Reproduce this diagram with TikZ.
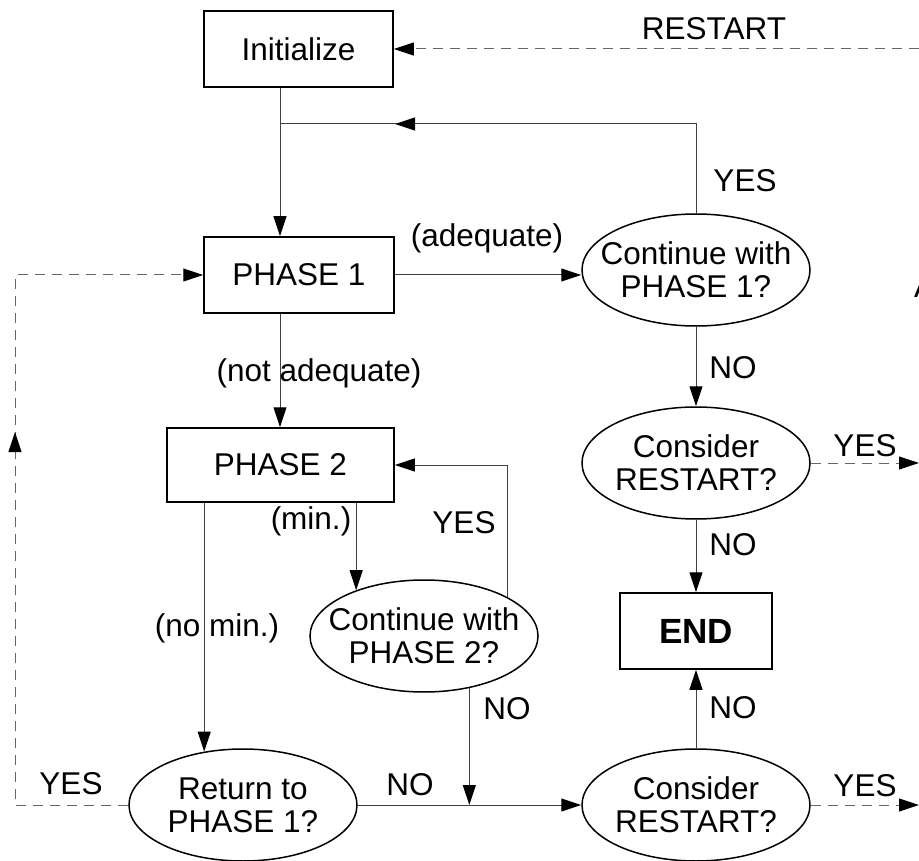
\documentclass[tikz,border=0pt]{standalone}
\usepackage{fontspec}
\setmainfont{Liberation Sans}
\usetikzlibrary{arrows.meta,shapes.geometric}
\begin{document}
\begin{tikzpicture}[x=1pt,y=-1pt,
  every node/.style={font=\fontsize{31.5}{33}\selectfont},
  box/.style={draw=black,line width=1.5pt,inner sep=0pt},
  dec/.style={draw=black,ellipse,line width=1.5pt,minimum width=228pt,minimum height=112pt,inner sep=0pt},
  txt/.style={align=center,inner sep=0pt},
  conn/.style={line width=1pt,draw=black!75},
  dconn/.style={line width=1pt,draw=black!60,dash pattern=on 10pt off 7pt},
  tip/.style={-{Triangle[length=20pt,width=13pt,color=black,fill=black]}},
  lbl/.style={inner sep=0pt}]
\useasboundingbox (0,0) rectangle (919,861);

% boxes
\node[box,minimum width=189pt,minimum height=76pt] (init) at (298.5,49) {Initialize};
\node[box,minimum width=190pt,minimum height=76pt] (p1) at (299,275) {PHASE 1};
\node[box,minimum width=227pt,minimum height=74pt] (p2) at (280.5,465) {PHASE 2};
\node[box,minimum width=152pt,minimum height=76pt,font=\fontsize{35}{40}\selectfont\bfseries] (end) at (696,631) {END};

% decisions
\node[dec] (c1) at (696,270) {};
\node[txt] (c1t) at (c1) {Continue with\\PHASE 1?};
\node[dec] (cons1) at (696,463) {};
\node[txt] (cons1t) at (cons1) {Consider\\RESTART?};
\node[dec] (c2) at (424,636) {};
\node[txt] (c2t) at (c2) {Continue with\\PHASE 2?};
\node[dec] (ret) at (243,805) {};
\node[txt] (rett) at (ret) {Return to\\PHASE 1?};
\node[dec] (cons2) at (696,805) {};
\node[txt] (cons2t) at (cons2) {Consider\\RESTART?};

% helper coordinates
\coordinate (j1) at (280,124);
\coordinate (a1) at (395,124);
\coordinate (rs) at (919,49);
\coordinate (ry1) at (919,463);
\coordinate (ry2) at (919,805);
\coordinate (l1) at (15,805);
\coordinate (l2) at (15,275);
\coordinate (l3) at (15,432);
\coordinate (l4) at (15,436);

% solid connectors
\draw[conn,tip] (init.south -| j1) -- (p1.north -| j1);
\draw[conn] (c1.north) -- (c1.north |- j1) -- (j1);
\draw[conn,tip] (c1.north |- j1) -- (a1);
\draw[conn,tip] (p1.east) -- (p1.east -| c1.west);
\draw[conn,tip] (c1.south) -- (cons1.north);
\draw[conn,tip] (cons1.south) -- (end.north);
\draw[conn,tip] (cons2.north) -- (end.south);
\draw[conn,tip] (p1.south -| j1) -- (p2.north -| j1);
\draw[conn,tip] (p2.south -| c2.146) -- (c2.146);
\draw[conn,tip] (c2.25) -- (c2.25 |- p2.east) -- (p2.east);
\draw[conn,tip] (p2.south -| ret.126) -- (ret.126);
\draw[conn,tip] (c2.-49) -- (c2.-49 |- ret.east);
\draw[conn,tip] (ret.east) -- (cons2.west);

% dashed connectors
\draw[dconn,tip] (rs) -- (init.east);
\draw[dconn,tip] (cons1.east) -- (ry1);
\draw[dconn,tip] (cons2.east) -- (ry2);
\draw[dconn,tip] (ret.west) -- (l1) -- (l2) -- (p1.west);
\draw[line width=1pt,draw=black!60,tip] (l4) -- (l3);

% labels
\node[lbl] (tRestart) at (714,29) {RESTART};
\node[lbl] (tYes1) at (745,181) {YES};
\node[lbl] (tAdeq) at (487,238) {(adequate)};
\node[lbl] (tNo1) at (733,368) {NO};
\node[lbl] (tYes2) at (865,446) {YES};
\node[lbl] (tNo2) at (733,545) {NO};
\node[lbl] (tNo3) at (733,708) {NO};
\node[lbl] (tYes3) at (865,786) {YES};
\node[lbl] (tNotAdeq) at (319,373) {(not adequate)};
\node[lbl] (tYes4) at (464,523) {YES};
\node[lbl] (tMin) at (311,521) {(min.)};
\node[lbl] (tNoMin) at (217,628) {(no min.)};
\node[lbl] (tNo4) at (507,709) {NO};
\node[lbl] (tNo5) at (410,785) {NO};
\node[lbl] (tYes5) at (71,784) {YES};
\node[lbl,anchor=base west] (tA) at (914,298) {A};
\end{tikzpicture}
\end{document}
